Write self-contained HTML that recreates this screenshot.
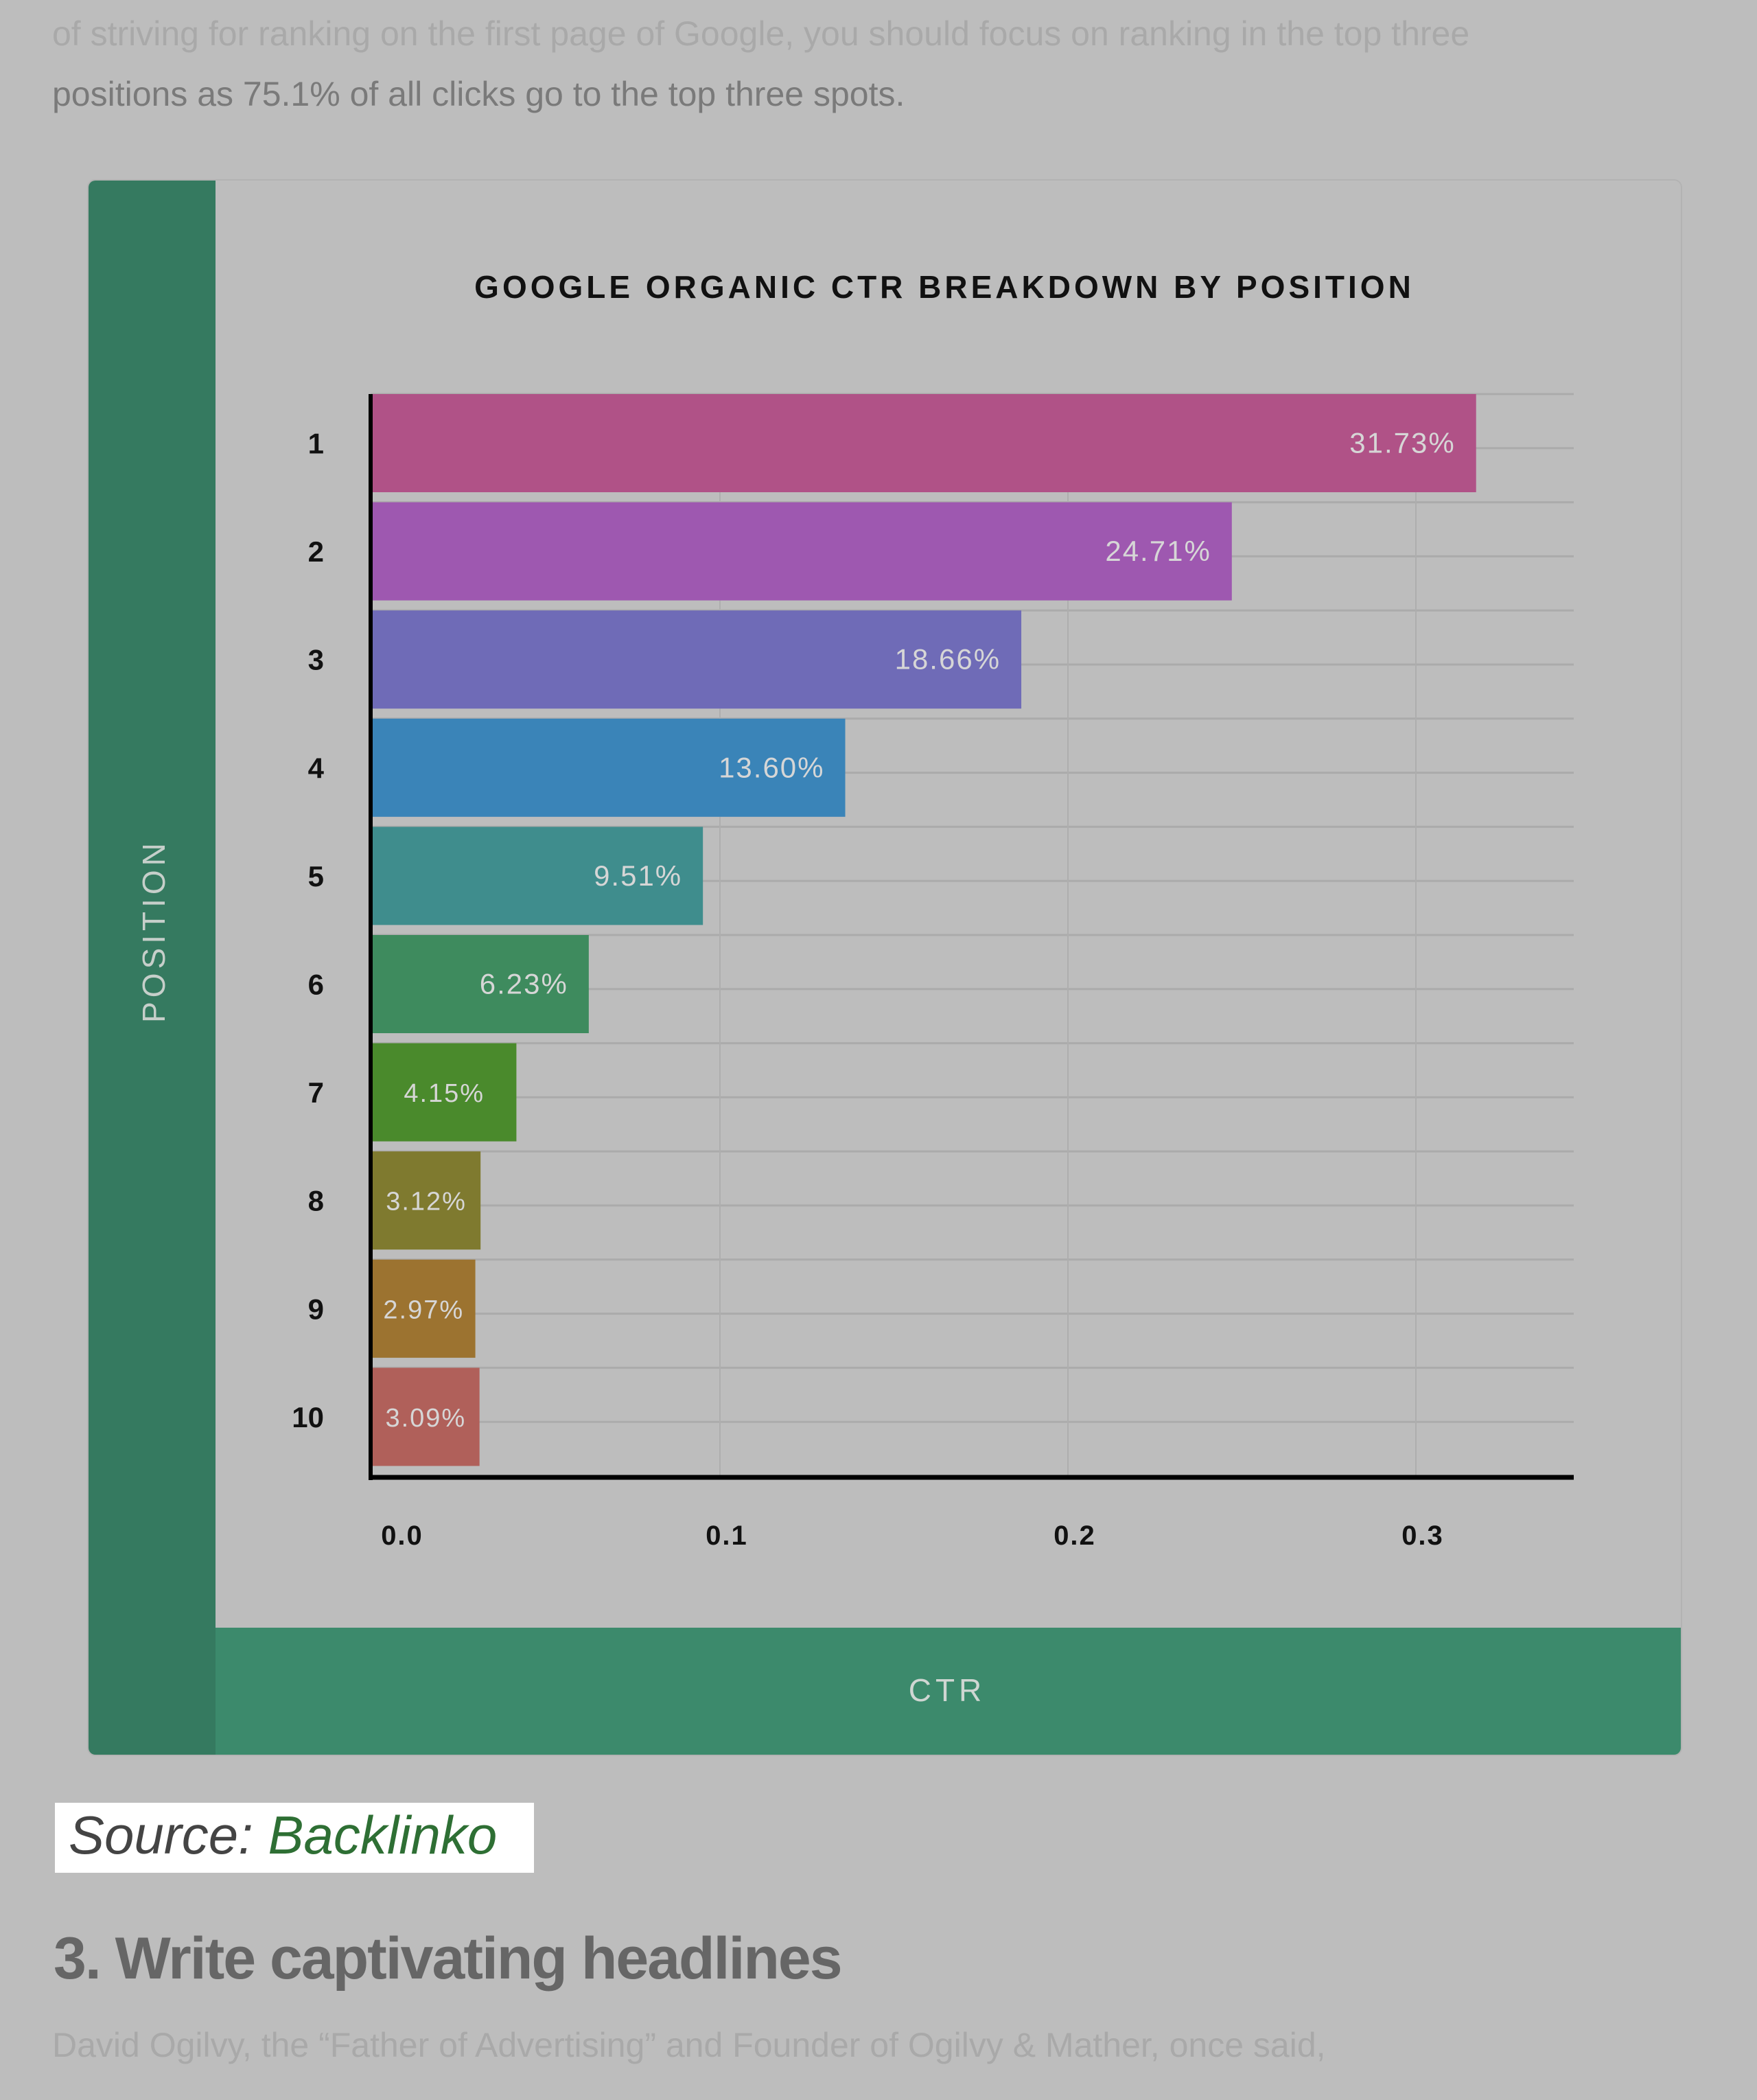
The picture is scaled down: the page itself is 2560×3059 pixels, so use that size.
<!DOCTYPE html>
<html><head><meta charset="utf-8"><style>
body{margin:0;width:2560px;height:3059px;background:#bdbdbd;position:relative;overflow:hidden;font-family:"Liberation Sans",sans-serif}
.t{position:absolute;white-space:nowrap}
</style></head><body>
<div class="t" style="left:76px;top:20px;font-size:50px;color:#a9a9a9">of striving for ranking on the first page of Google, you should focus on ranking in the top three</div>
<div class="t" style="left:76px;top:108px;font-size:50px;color:#7a7a7a">positions as 75.1% of all clicks go to the top three spots.</div>
<div style="position:absolute;left:127px;top:261px;width:2320px;height:2293px;border:2px solid #b3b3b3;border-radius:12px;overflow:hidden;background:#bdbdbd">
<svg id="chart" width="2324" height="2297" viewBox="127 261 2324 2297" style="position:absolute;left:-2px;top:-2px"></svg>
</div>
<div style="position:absolute;left:80px;top:2626px;width:698px;height:102px;background:#fff"></div>
<div class="t" style="left:100px;top:2628px;font-size:78px;font-style:italic;color:#444">Source: <span style="color:#2e6f34">Backlinko</span></div>
<div class="t" style="left:78px;top:2804px;font-size:86px;font-weight:bold;color:#666;letter-spacing:-2px">3. Write captivating headlines</div>
<div class="t" style="left:76px;top:2950px;font-size:50px;color:#a9a9a9">David Ogilvy, the “Father of Advertising” and Founder of Ogilvy &amp; Mather, once said,</div>
<script>
const positions=["1","2","3","4","5","6","7","8","9","10"];
const ctrValues=[0.3173,0.2471,0.1866,0.1360,0.0951,0.0623,0.0415,0.0312,0.0297,0.0309];
const valueLabels=["31.73%","24.71%","18.66%","13.60%","9.51%","6.23%","4.15%","3.12%","2.97%","3.09%"];
const xTicks=[0,0.1,0.2,0.3];
const xTickLabels=["0.0","0.1","0.2","0.3"];
const colors=["#b05287","#9e58b0","#6f6bb7","#3a84b8","#3f8d8d","#3e8b5e","#4a8a2c","#7f7a2f","#9c7330","#b0605a"];
const NS="http://www.w3.org/2000/svg";
const svg=document.getElementById('chart');
const X0=542,XS=5070,Y0=574,STEP=157.6,BH=143,AXR=2293,AXB=2152;
const x=v=>X0+v*XS, y=i=>Y0+i*STEP;
function mk(tag,attrs,txt){const e=document.createElementNS(NS,tag);for(const k in attrs)e.setAttribute(k,attrs[k]);if(txt!=null)e.textContent=txt;svg.appendChild(e);return e;}
let e;
e=mk('rect',{x:127,y:261,width:187,height:2297,fill:'#357a60'});


e=mk('rect',{x:314,y:2371,width:2140,height:187,fill:'#3c8a6c'});


e=mk('text',{x:1376,y:434,'text-anchor':'middle','font-size':46,'font-weight':'bold','letter-spacing':5,fill:'#111','font-family':'Liberation Sans'},'GOOGLE ORGANIC CTR BREAKDOWN BY POSITION');


for(let k=0;k<=20;k++){const yy=Y0+k*STEP/2;
e=mk('line',{x1:540,x2:AXR,y1:yy,y2:yy,stroke:'#ababab','stroke-width':3});

}
xTicks.forEach((t,i)=>{if(t>0){e=mk('line',{x1:x(t),x2:x(t),y1:Y0,y2:AXB,stroke:'#aeaeae','stroke-width':2});

}
e=mk('text',{x:x(t)+(t===0?44:10),y:2250,'text-anchor':'middle','font-size':40,'font-weight':'bold',fill:'#111','letter-spacing':2},xTickLabels[i]);

});
ctrValues.forEach((v,i)=>{
e=mk('rect',{x:X0,y:y(i),width:x(v)-X0,height:BH,fill:colors[i]});


e=mk('text',{x:x(v)-(v<0.05?(x(v)-X0)/2:30),y:y(i)+BH/2+14,'text-anchor':v<0.05?'middle':'end','font-size':v<0.05?38:42,fill:'#d6d6d6','letter-spacing':2},valueLabels[i]);


e=mk('text',{x:472,y:y(i)+BH/2+15,'text-anchor':'end','font-size':42,'font-weight':'bold',fill:'#111'},positions[i]);

});
e=mk('line',{x1:540,x2:540,y1:Y0,y2:AXB+4,stroke:'#000','stroke-width':6});


e=mk('line',{x1:537,x2:AXR,y1:AXB,y2:AXB,stroke:'#000','stroke-width':7});


e=mk('text',{x:1380,y:2478,'text-anchor':'middle','font-size':46,fill:'#cfd6d2','letter-spacing':6},'CTR');


e=mk('text',{x:240,y:1356,'text-anchor':'middle','font-size':46,fill:'#c6cfca','letter-spacing':6,transform:'rotate(-90 240 1356)'},'POSITION');


</script>
</body></html>
